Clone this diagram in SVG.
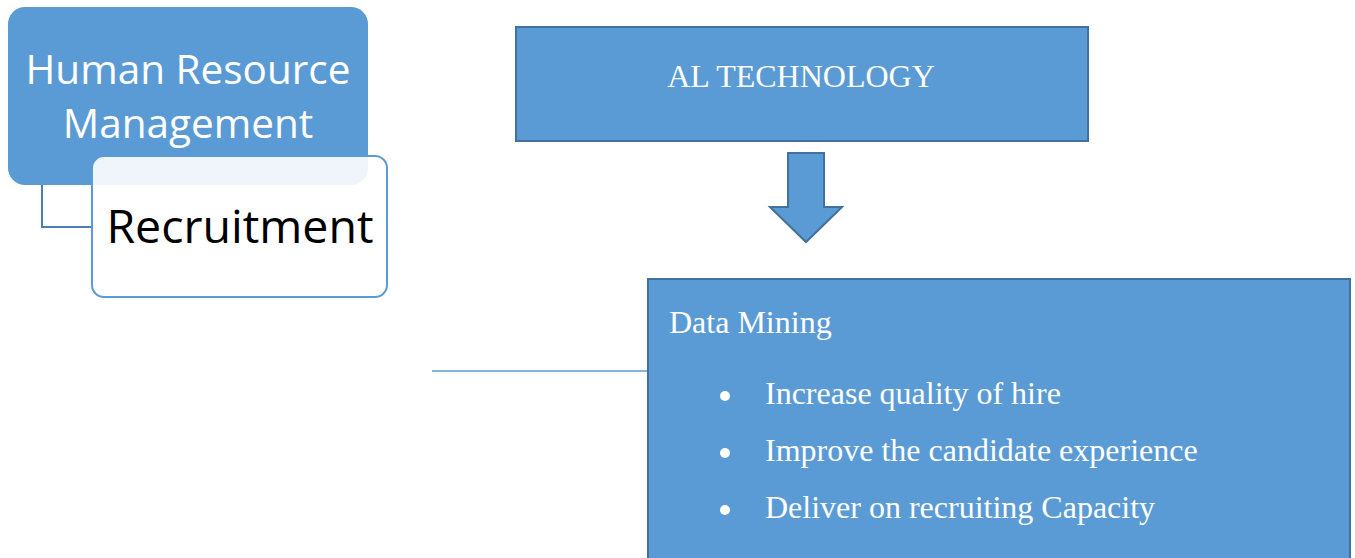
<svg xmlns="http://www.w3.org/2000/svg" width="1355" height="558" viewBox="0 0 1355 558">
<style>
.blue{fill:#5B9BD5;stroke:#41719C;stroke-width:2}
.conn{fill:none;stroke:#4A7EB5;stroke-width:2}
.cal{font-family:"Open Sans","Noto Sans",sans-serif}
.tnr{font-family:"Liberation Serif","Times New Roman",serif;fill:#fff;font-size:32px}
</style>
<rect width="1355" height="558" fill="#fff"/>
<g id="connectors">
<polyline class="conn" points="42,185 42,227 92,227"/>
<line x1="432" y1="371" x2="648" y2="371" stroke="#5B9BD5" stroke-width="1.5"/>
</g>
<g id="hrm">
<rect x="8" y="7" width="360" height="178" rx="17" fill="#5B9BD5"/>
<text class="cal" x="188" y="84" font-size="40.5" fill="#fff" text-anchor="middle">Human Resource</text>
<text class="cal" x="188" y="138" font-size="40.5" fill="#fff" text-anchor="middle">Management</text>
</g>
<g id="recruitment">
<rect x="92" y="156" width="295" height="141" rx="12" fill="#fff" fill-opacity="0.9" stroke="#5B9BD5" stroke-width="2"/>
<text class="cal" x="240" y="243" font-size="46.5" fill="#000" text-anchor="middle">Recruitment</text>
</g>
<g id="al-technology">
<rect class="blue" x="516" y="27" width="572" height="114"/>
<text class="tnr" x="801" y="87" text-anchor="middle">AL TECHNOLOGY</text>
</g>
<g id="arrow">
<polygon class="blue" points="788,153 824,153 824,207 842,207 806,242 770,207 788,207"/>
</g>
<g id="data-mining">
<rect class="blue" x="648" y="279" width="702" height="290"/>
<text class="tnr" x="669" y="333">Data Mining</text>
<circle cx="725" cy="396" r="5" fill="#fff"/>
<text class="tnr" x="765" y="404">Increase quality of hire</text>
<circle cx="725" cy="453" r="5" fill="#fff"/>
<text class="tnr" x="765" y="461">Improve the candidate experience</text>
<circle cx="725" cy="510" r="5" fill="#fff"/>
<text class="tnr" x="765" y="518">Deliver on recruiting Capacity</text>
</g>
</svg>
